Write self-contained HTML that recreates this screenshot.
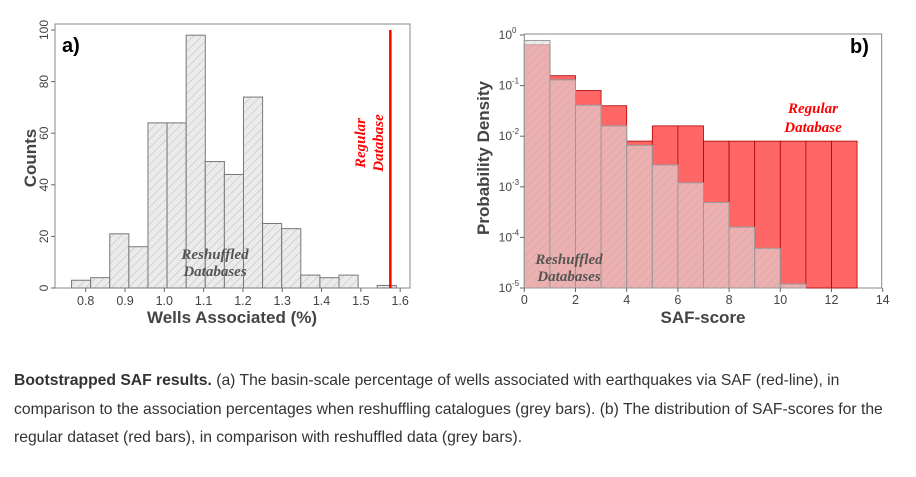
<!DOCTYPE html>
<html><head><meta charset="utf-8">
<style>
body{margin:0;background:#fff;width:916px;height:477px;overflow:hidden;font-family:"Liberation Sans",Arial,sans-serif}
#fig{position:absolute;left:0;top:0}
#cap{position:absolute;left:14px;top:367px;font-size:15.7px;line-height:28.5px;color:#333;white-space:nowrap}
</style></head><body>
<svg id="fig" width="916" height="340" xmlns="http://www.w3.org/2000/svg">
<defs>
<pattern id="hatch" patternUnits="userSpaceOnUse" width="6" height="6" patternTransform="rotate(45)">
<line x1="0" y1="0" x2="0" y2="6" stroke="#999" stroke-width="0.6"/>
</pattern>
</defs>
<g id="pa"></g><g id="pb"></g>
</svg>
<div id="cap"><b>Bootstrapped SAF results.</b> (a) The basin-scale percentage of wells associated with earthquakes via SAF (red-line), in<br>comparison to the association percentages when reshuffling catalogues (grey bars). (b) The distribution of SAF-scores for the<br>regular dataset (red bars), in comparison with reshuffled data (grey bars).</div>
<script>
const aCounts=[3,4,21,16,64,64,98,49,44,74,25,23,5,4,5,0,1];
const aBinStart=0.764, aBinWidth=0.0486;
const aRegular=1.575;
const aXTicks=[0.8,0.9,1.0,1.1,1.2,1.3,1.4,1.5,1.6];
const aYTicks=[0,20,40,60,80,100];
const bRegular=[0.64,0.157,0.08,0.04,0.008,0.016,0.016,0.008,0.008,0.008,0.008,0.008,0.008];
const bShuffled=[0.78,0.13,0.041,0.016,0.0066,0.0027,0.0012,0.00049,0.00016,0.000061,0.000012,0,0];
const bXTicks=[0,2,4,6,8,10,12,14];
const bYExp=[0,-1,-2,-3,-4,-5];
const NS='http://www.w3.org/2000/svg';
function mk(p,t,a,txt){const e=document.createElementNS(NS,t);for(const k in a)e.setAttribute(k,a[k]);if(txt!==undefined)e.textContent=txt;p.appendChild(e);return e;}
// Panel A
const pa=document.getElementById('pa');
const ax=v=>85.7+(v-0.8)*393.1, ay=v=>288-v*2.58;
mk(pa,'rect',{x:55,y:24,width:355,height:264,fill:'#fff',stroke:'#888','stroke-width':1});
aCounts.forEach((c,i)=>{if(c<=0)return;const x0=ax(aBinStart+i*aBinWidth),x1=ax(aBinStart+(i+1)*aBinWidth);
 const g=mk(pa,'g',{});
 
 
 mk(g,'rect',{x:x0,y:ay(c),width:x1-x0,height:ay(0)-ay(c),fill:'#ebebeb',stroke:'#777','stroke-width':1});
 mk(g,'rect',{x:x0,y:ay(c),width:x1-x0,height:ay(0)-ay(c),fill:'url(#hatch)'});
});
const rl=mk(pa,'line',{x1:ax(aRegular),x2:ax(aRegular),y1:30,y2:288,stroke:'#f00','stroke-width':2.5});

aXTicks.forEach(t=>{mk(pa,'line',{x1:ax(t),x2:ax(t),y1:288,y2:292,stroke:'#666'});mk(pa,'text',{x:ax(t),y:305,'font-size':12.5,fill:'#444','text-anchor':'middle'},t.toFixed(1));});
aYTicks.forEach(t=>{mk(pa,'line',{x1:51,x2:55,y1:ay(t),y2:ay(t),stroke:'#666'});mk(pa,'text',{x:48,y:ay(t),'font-size':12,fill:'#444','text-anchor':'middle',transform:`rotate(-90 48 ${ay(t)})`},t);});
mk(pa,'text',{x:232,y:323,'font-size':17,'font-weight':'bold',fill:'#444','text-anchor':'middle'},'Wells Associated (%)');
mk(pa,'text',{x:36,y:158,'font-size':17,'font-weight':'bold',fill:'#444','text-anchor':'middle',transform:'rotate(-90 36 158)'},'Counts');
mk(pa,'text',{x:62,y:52,'font-size':20,'font-weight':'bold',fill:'#000'},'a)');
mk(pa,'text',{x:215,y:259,'font-size':15,'font-weight':'bold','font-style':'italic','font-family':'Liberation Serif',fill:'#555','text-anchor':'middle'},'Reshuffled');
mk(pa,'text',{x:215,y:276,'font-size':15,'font-weight':'bold','font-style':'italic','font-family':'Liberation Serif',fill:'#555','text-anchor':'middle'},'Databases');
mk(pa,'text',{x:365,y:143,'font-size':15,'font-weight':'bold','font-style':'italic','font-family':'Liberation Serif',fill:'#f00','text-anchor':'middle',transform:'rotate(-90 365 143)'},'Regular');
mk(pa,'text',{x:383,y:143,'font-size':15,'font-weight':'bold','font-style':'italic','font-family':'Liberation Serif',fill:'#f00','text-anchor':'middle',transform:'rotate(-90 383 143)'},'Database');
// Panel B
const pb=document.getElementById('pb');
const bx=v=>524.3+v*25.6, by=v=>35-Math.log10(v)*50.6, base=by(1e-5);
mk(pb,'rect',{x:524.3,y:34,width:357.4,height:254,fill:'#fff',stroke:'#888'});
bRegular.forEach((v,i)=>{if(v<=0)return;const r=mk(pb,'rect',{x:bx(i),y:by(v),width:25.6,height:base-by(v),fill:'#ff6666',stroke:'#a00','stroke-width':0.8});
 
 });
bShuffled.forEach((v,i)=>{if(v<=1e-5)return;const g=mk(pb,'g',{});
 
 
 mk(g,'rect',{x:bx(i),y:by(v),width:25.6,height:base-by(v),fill:'rgba(225,225,225,0.6)',stroke:'#999','stroke-width':1});
 mk(g,'rect',{x:bx(i),y:by(v),width:25.6,height:base-by(v),fill:'url(#hatch)',opacity:0.7});});
bXTicks.forEach(t=>{mk(pb,'line',{x1:bx(t),x2:bx(t),y1:288,y2:292,stroke:'#666'});mk(pb,'text',{x:bx(t),y:304,'font-size':12.5,fill:'#444','text-anchor':'middle'},t);});
bYExp.forEach(e=>{const y=by(Math.pow(10,e));mk(pb,'line',{x1:520,x2:524.3,y1:y,y2:y,stroke:'#666'});
 mk(pb,'text',{x:512,y:y+4,'font-size':12,fill:'#444','text-anchor':'end'},'10');mk(pb,'text',{x:512,y:y-2,'font-size':8,fill:'#444'},e);});
mk(pb,'text',{x:703,y:323,'font-size':17,'font-weight':'bold',fill:'#444','text-anchor':'middle'},'SAF-score');
mk(pb,'text',{x:489,y:158,'font-size':17,'font-weight':'bold',fill:'#444','text-anchor':'middle',transform:'rotate(-90 489 158)'},'Probability Density');
mk(pb,'text',{x:850,y:53,'font-size':20,'font-weight':'bold',fill:'#000'},'b)');
mk(pb,'text',{x:813,y:113,'font-size':15,'font-weight':'bold','font-style':'italic','font-family':'Liberation Serif',fill:'#f00','text-anchor':'middle'},'Regular');
mk(pb,'text',{x:813,y:132,'font-size':15,'font-weight':'bold','font-style':'italic','font-family':'Liberation Serif',fill:'#f00','text-anchor':'middle'},'Database');
mk(pb,'text',{x:569,y:264,'font-size':15,'font-weight':'bold','font-style':'italic','font-family':'Liberation Serif',fill:'#555','text-anchor':'middle'},'Reshuffled');
mk(pb,'text',{x:569,y:281,'font-size':15,'font-weight':'bold','font-style':'italic','font-family':'Liberation Serif',fill:'#555','text-anchor':'middle'},'Databases');
</script>
</body></html>
